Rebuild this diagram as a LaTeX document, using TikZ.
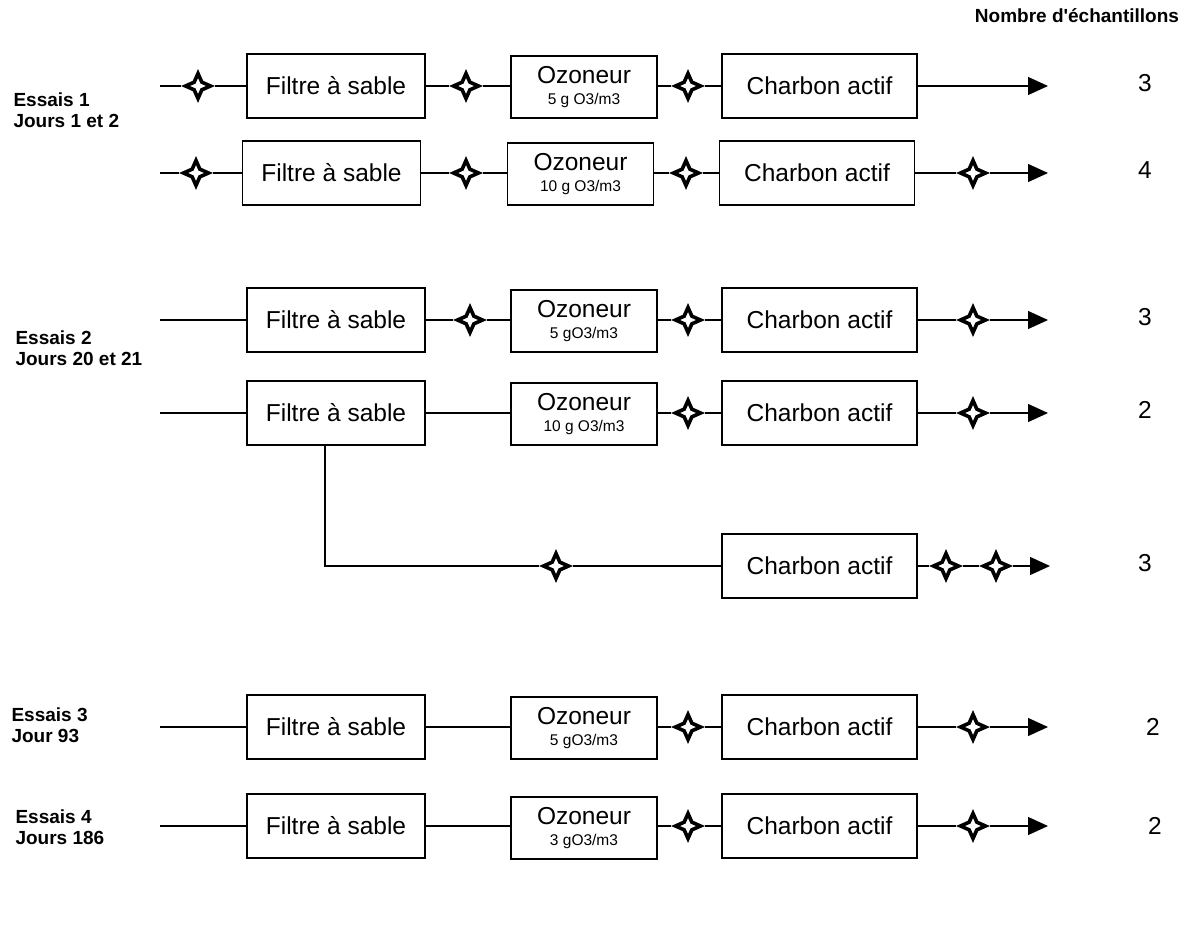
\documentclass[tikz,border=0pt]{standalone}
\usepackage{fontspec}
\setmainfont{Liberation Sans}
\usetikzlibrary{shapes.geometric,arrows.meta}
\newcommand{\mainsz}{\fontsize{24.5}{21}\selectfont}
\newcommand{\subsz}{\fontsize{15.5}{21}\selectfont}
\newcommand{\labsz}{\bfseries\fontsize{19}{20.5}\selectfont}
\tikzset{
  box/.style={draw, line width=1.3pt, inner sep=0pt, minimum height=64pt, font=\mainsz, align=center},
  filtre/.style={box, minimum width=178pt},
  ozo/.style={box, minimum width=146pt, minimum height=62pt},
  charbon/.style={box, minimum width=195pt},
  vanne/.style={star, star points=4, star point ratio=2.3, minimum size=25pt, inner sep=0pt,
    draw, fill=white, line width=3.6pt, line join=miter},
  conn/.style={line width=1.3pt},
  fin/.style={conn, -{Triangle[length=20pt,width=18pt]}},
  nb/.style={font=\mainsz},
  lab/.style={anchor=west, align=left, font=\labsz}
}
\begin{document}
\begin{tikzpicture}[x=1pt,y=-1pt]
\useasboundingbox (0,0) rectangle (1191,944);

\node[font=\labsz] (titre) at (1077,16) {Nombre d\textquotesingle échantillons};

% ---- Essais 1
\node[lab] (e1lab) at (10,110) {Essais 1\\Jours 1 et 2};
% row 1
\coordinate (a1) at (160,86);
\node[vanne] (s11) at (198,86) {};
\node[filtre] (f1) at (336,86) {Filtre à sable};
\node[vanne] (s12) at (466,86) {};
\node[ozo] (o1) at (584,87) {Ozoneur\\\subsz 5 g O3/m3};
\node[vanne] (s13) at (688,86) {};
\node[charbon] (c1) at (819.5,86) {Charbon actif};
\coordinate (z1) at (1048,86);
\node[nb] (n1) at (1145,83) {3};
\draw[fin] (a1) -- (s11) -- (f1) -- (s12) -- (o1.west |- s12) (o1.east |- s13) -- (s13) -- (c1) -- (z1);
% row 2
\coordinate (a2) at (160,173);
\node[vanne] (s21) at (196,173) {};
\node[filtre] (f2) at (331.5,173) {Filtre à sable};
\node[vanne] (s22) at (466,173) {};
\node[ozo] (o2) at (580.5,174) {Ozoneur\\\subsz 10 g O3/m3};
\node[vanne] (s23) at (686,173) {};
\node[charbon] (c2) at (817,173) {Charbon actif};
\node[vanne] (s24) at (973,173) {};
\coordinate (z2) at (1048,173);
\node[nb] (n2) at (1145,170) {4};
\draw[fin] (a2) -- (s21) -- (f2) -- (s22) -- (o2.west |- s22) (o2.east |- s23) -- (s23) -- (c2) -- (s24) -- (z2);

% ---- Essais 2
\node[lab] (e2lab) at (12,348) {Essais 2\\Jours 20 et 21};
% row 3
\coordinate (a3) at (160,320);
\node[filtre] (f3) at (336,320) {Filtre à sable};
\node[vanne] (s32) at (470,320) {};
\node[ozo] (o3) at (584,321) {Ozoneur\\\subsz 5 gO3/m3};
\node[vanne] (s33) at (688,320) {};
\node[charbon] (c3) at (819.5,320) {Charbon actif};
\node[vanne] (s34) at (973,320) {};
\coordinate (z3) at (1048,320);
\node[nb] (n3) at (1145,317) {3};
\draw[fin] (a3) -- (f3) -- (s32) -- (o3.west |- s32) (o3.east |- s33) -- (s33) -- (c3) -- (s34) -- (z3);
% row 4
\coordinate (a4) at (160,413);
\node[filtre] (f4) at (336,413) {Filtre à sable};
\node[ozo] (o4) at (584,414) {Ozoneur\\\subsz 10 g O3/m3};
\node[vanne] (s43) at (688,413) {};
\node[charbon] (c4) at (819.5,413) {Charbon actif};
\node[vanne] (s44) at (973,413) {};
\coordinate (z4) at (1048,413);
\node[nb] (n4) at (1145,410) {2};
\draw[fin] (a4) -- (f4) -- (o4.west |- f4) (o4.east |- s43) -- (s43) -- (c4) -- (s44) -- (z4);
% row 5 (branch)
\coordinate (k5) at (325,566);
\node[vanne] (s51) at (556,566) {};
\node[charbon] (c5) at (819.5,566) {Charbon actif};
\node[vanne] (s52) at (946,566) {};
\node[vanne] (s53) at (996,566) {};
\coordinate (z5) at (1050,566);
\node[nb] (n5) at (1145,563) {3};
\draw[fin] (f4.south -| k5) -- (k5) -- (s51) -- (c5) -- (s52) -- (s53) -- (z5);

% ---- Essais 3
\node[lab] (e3lab) at (8,725) {Essais 3\\Jour 93};
\coordinate (a6) at (160,727);
\node[filtre] (f6) at (336,727) {Filtre à sable};
\node[ozo] (o6) at (584,728) {Ozoneur\\\subsz 5 gO3/m3};
\node[vanne] (s63) at (688,727) {};
\node[charbon] (c6) at (819.5,727) {Charbon actif};
\node[vanne] (s64) at (973,727) {};
\coordinate (z6) at (1048,727);
\node[nb] (n6) at (1153,727) {2};
\draw[fin] (a6) -- (f6) -- (o6.west |- f6) (o6.east |- s63) -- (s63) -- (c6) -- (s64) -- (z6);

% ---- Essais 4
\node[lab] (e4lab) at (12,827) {Essais 4\\Jours 186};
\coordinate (a7) at (160,826);
\node[filtre] (f7) at (336,826) {Filtre à sable};
\node[ozo] (o7) at (584,828) {Ozoneur\\\subsz 3 gO3/m3};
\node[vanne] (s73) at (688,826) {};
\node[charbon] (c7) at (819.5,826) {Charbon actif};
\node[vanne] (s74) at (973,826) {};
\coordinate (z7) at (1048,826);
\node[nb] (n7) at (1155,826) {2};
\draw[fin] (a7) -- (f7) -- (o7.west |- f7) (o7.east |- s73) -- (s73) -- (c7) -- (s74) -- (z7);
\end{tikzpicture}
\end{document}
